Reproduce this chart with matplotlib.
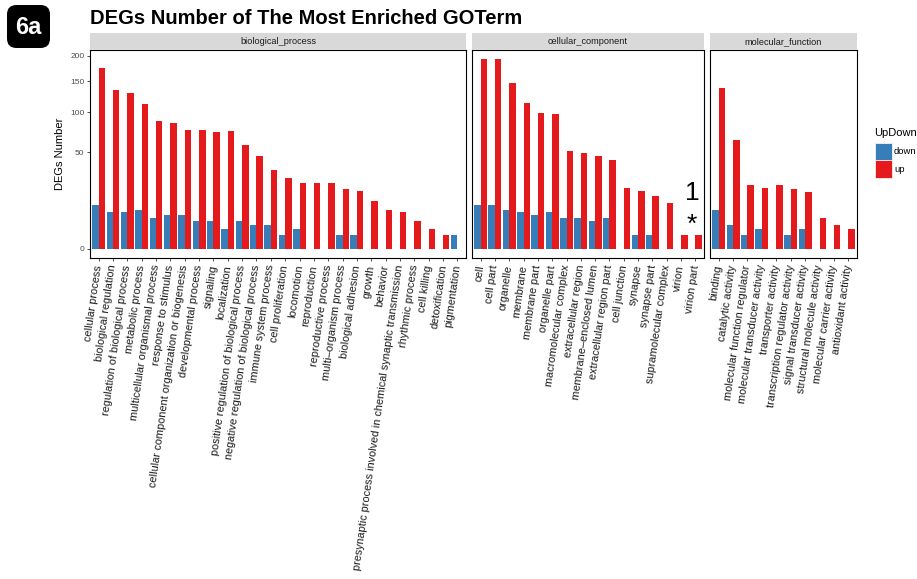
import numpy as np
import matplotlib
matplotlib.use("Agg")
import matplotlib.pyplot as plt
from matplotlib.patches import FancyBboxPatch, Rectangle

plt.rcParams["font.family"] = ["Liberation Sans", "DejaVu Sans"]

W, H = 917, 579

bp_terms = [
    "cellular process", "biological regulation", "regulation of biological process",
    "metabolic process", "multicellular organismal process", "response to stimulus",
    "cellular component organization or biogenesis", "developmental process",
    "signaling", "localization", "positive regulation of biological process",
    "negative regulation of biological process", "immune system process",
    "cell proliferation", "locomotion", "reproduction", "reproductive process",
    "multi\u2013organism process", "biological adhesion", "growth", "behavior",
    "presynaptic process involved in chemical synaptic transmission",
    "rhythmic process", "cell killing", "detoxification", "pigmentation",
]
bp_up = [176, 135, 130, 112, 87, 85, 76, 76, 73, 74, 58, 46, 33, 27, 23, 23, 23,
         19, 18, 12, 8, 7, 4, 2, 1, 0]
bp_down = [10, 7, 7, 8, 5, 6, 6, 4, 4, 2, 4, 3, 3, 1, 2, 0, 0, 1, 1, 0, 0, 0, 0,
           0, 0, 1]

cc_terms = [
    "cell", "cell part", "organelle", "membrane", "membrane part", "organelle part",
    "macromolecular complex", "extracellular region", "membrane\u2013enclosed lumen",
    "extracellular region part", "cell junction", "synapse", "synapse part",
    "supramolecular complex", "virion", "virion part",
]
cc_up = [192, 192, 147, 113, 98, 97, 51, 49, 46, 42, 20, 18, 15, 11, 1, 1]
cc_down = [10, 10, 8, 7, 6, 7, 5, 5, 4, 5, 0, 1, 1, 0, 0, 0]

mf_terms = [
    "binding", "catalytic activity", "molecular function regulator",
    "molecular transducer activity", "transporter activity",
    "transcription regulator activity", "signal transducer activity",
    "structural molecule activity", "molecular carrier activity",
    "antioxidant activity",
]
mf_up = [138, 63, 22, 20, 22, 19, 17, 5, 3, 2]
mf_down = [8, 3, 1, 2, 0, 1, 2, 0, 0, 0]

panels = [
    ("biological_process", bp_terms, bp_up, bp_down, 90, 466),
    ("cellular_component", cc_terms, cc_up, cc_down, 472, 704),
    ("molecular_function", mf_terms, mf_up, mf_down, 710, 857),
]

UP_COL = "#E41A1C"
DOWN_COL = "#377EB8"
y_ticks = [0, 50, 100, 150, 200]


def fbox(x0, y0, x1, y1):
    # pixel box (top-left origin) -> figure fraction rect
    return [x0 / W, 1 - y1 / H, (x1 - x0) / W, (y1 - y0) / H]


def sqrt_fwd(v):
    v = np.asarray(v, dtype=float)
    return np.sign(v) * np.sqrt(np.abs(v))


def sqrt_inv(v):
    v = np.asarray(v, dtype=float)
    return np.sign(v) * v ** 2


fig = plt.figure(figsize=(W / 100, H / 100), dpi=100)

for i, (name, terms, up, down, x0, x1) in enumerate(panels):
    ax = fig.add_axes(fbox(x0, 50, x1, 258))
    ax.set_yscale("function", functions=(sqrt_fwd, sqrt_inv))
    pos = np.arange(len(terms))
    ax.bar(pos - 0.225, down, width=0.45, color=DOWN_COL, linewidth=0)
    ax.bar(pos + 0.225, up, width=0.45, color=UP_COL, linewidth=0)
    ax.set_xlim(-0.6, len(terms) - 0.4)
    ax.set_ylim(-0.48, 211.7)
    ax.set_xticks(pos)
    ax.set_xticklabels(terms, rotation=82, ha="right", va="center",
                       rotation_mode="anchor", fontsize=7.9, color="#1a1a1a")
    ax.tick_params(axis="x", length=2.5, width=0.6, color="#333333", pad=2.5)
    for s in ax.spines.values():
        s.set_color("black")
        s.set_linewidth(0.8)
    if i == 0:
        ax.set_yticks(y_ticks)
        ax.set_yticklabels([str(t) for t in y_ticks], fontsize=6, color="#4d4d4d")
        ax.tick_params(axis="y", length=2.5, width=0.6, color="#333333", pad=1.5)
        ax.set_ylabel("DEGs Number", fontsize=8)
        ax.yaxis.set_label_coords((65 - x0) / (x1 - x0), 0.5)
    else:
        ax.set_yticks([])
    ax.yaxis.set_minor_locator(matplotlib.ticker.NullLocator())

    # facet strip
    sax = fig.add_axes(fbox(x0, 33, x1, 50))
    sax.set_facecolor("#D9D9D9")
    sax.set_xticks([])
    sax.set_yticks([])
    for s in sax.spines.values():
        s.set_visible(False)
    sax.text(0.5, 0.5, name, ha="center", va="center", fontsize=6.6,
             color="#1a1a1a", transform=sax.transAxes)

fig.text(90 / W, 1 - 18.5 / H, "DEGs Number of The Most Enriched GOTerm",
         fontsize=14.5, fontweight="bold", ha="left", va="center")

# panel badge
bax = fig.add_axes(fbox(7, 5, 50, 48))
bax.set_axis_off()
bax.set_xlim(0, 1)
bax.set_ylim(0, 1)
bax.add_patch(FancyBboxPatch((0.1, 0.1), 0.8, 0.8,
                             boxstyle="round,pad=0.1,rounding_size=0.22",
                             facecolor="black", edgecolor="none"))
bax.text(0.5, 0.47, "6a", color="white", fontsize=17, fontweight="bold",
         ha="center", va="center")

# marks over the virion bars
fig.text(692 / W, 1 - 192.5 / H, "1", fontsize=19, ha="center", va="center")
fig.text(692 / W, 1 - 225 / H, "*", fontsize=19, ha="center", va="center")

# legend
fig.text(874 / W, 1 - 133 / H, "UpDown", fontsize=8, ha="left", va="center")
fig.add_artist(Rectangle((875 / W, 1 - 160 / H), 17 / W, 17 / H,
                         transform=fig.transFigure, facecolor=DOWN_COL,
                         edgecolor="white", linewidth=0.5))
fig.add_artist(Rectangle((875 / W, 1 - 177.5 / H), 17 / W, 17 / H,
                         transform=fig.transFigure, facecolor=UP_COL,
                         edgecolor="white", linewidth=0.5))
fig.text(894 / W, 1 - 151.5 / H, "down", fontsize=6.8, ha="left", va="center")
fig.text(894 / W, 1 - 169 / H, "up", fontsize=6.8, ha="left", va="center")

fig.savefig("out.png", dpi=100)
